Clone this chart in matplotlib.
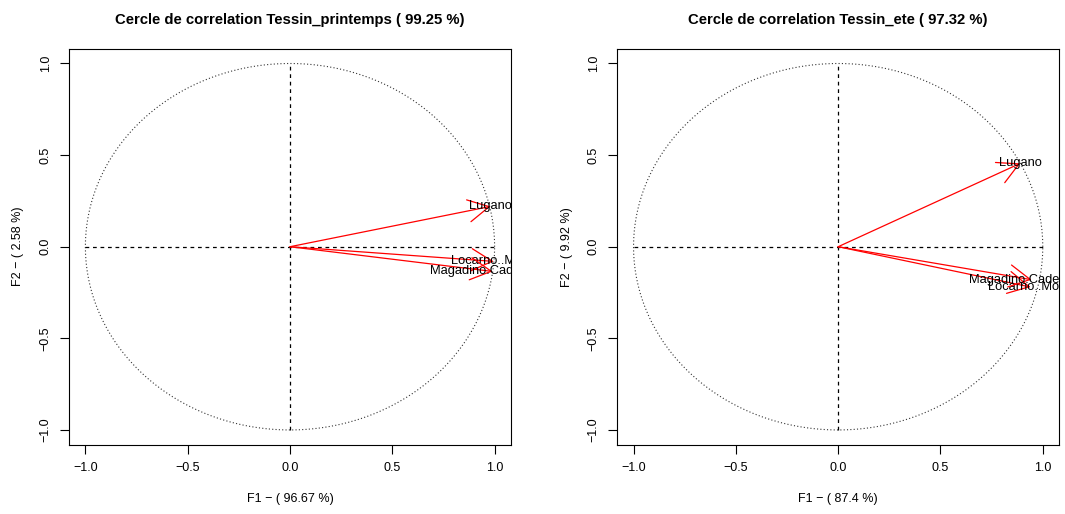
import numpy as np
import matplotlib.pyplot as plt

plt.rcParams['font.family'] = ['Liberation Sans', 'DejaVu Sans']

# correlations variables / axes
stations = ["Lugano", "Locarno..Monti", "Magadino.Cadenazzo"]
f1_printemps = [0.98, 0.995, 0.99]
f2_printemps = [0.22, -0.08, -0.135]
f1_ete = [0.89, 0.94, 0.945]
f2_ete = [0.455, -0.22, -0.18]

titres = ["Cercle de correlation Tessin_printemps ( 99.25 %)",
          "Cercle de correlation Tessin_ete ( 97.32 %)"]
xlabels = ["F1 \u2212 ( 96.67 %)", "F1 \u2212 ( 87.4 %)"]
ylabels = ["F2 \u2212 ( 2.58 %)", "F2 \u2212 ( 9.92 %)"]
ticks = [-1.0, -0.5, 0.0, 0.5, 1.0]


def cercle(ax, x, y, titre, xl, yl):
    t = np.linspace(0, 2 * np.pi, 400)
    ax.plot(np.cos(t), np.sin(t), color="#333333", lw=0.8, ls=(0, (1, 2)))
    ax.plot([-1, 1], [0, 0], color="black", lw=0.9, ls=(0, (3, 3)))
    ax.plot([0, 0], [-1, 1], color="black", lw=0.9, ls=(0, (3, 3)))
    for nom, a, b in zip(stations, x, y):
        ax.annotate("", xy=(a, b), xytext=(0, 0),
                    arrowprops=dict(arrowstyle="->,head_length=0.75,head_width=0.4",
                                    color="red", lw=0.9, shrinkA=0, shrinkB=0,
                                    mutation_scale=20))
        ax.text(a, b, nom, ha="center", va="center", fontsize=9.3, clip_on=True)
    ax.set_xlim(-1.08, 1.08)
    ax.set_ylim(-1.08, 1.08)
    ax.set_xticks(ticks)
    ax.set_yticks(ticks)
    ax.set_xticklabels([f"{v:.1f}".replace("-", "\u2212") for v in ticks])
    ax.set_yticklabels([f"{v:.1f}".replace("-", "\u2212") for v in ticks],
                       rotation=90, va="center")
    ax.tick_params(labelsize=9, length=6.5, width=0.8, pad=6)
    ax.set_title(titre, fontsize=10.7, fontweight="bold", pad=18)
    ax.set_xlabel(xl, fontsize=9, labelpad=14)
    ax.set_ylabel(yl, fontsize=9, labelpad=11)
    for s in ax.spines.values():
        s.set_linewidth(0.8)


fig = plt.figure(figsize=(10.65, 5.14), dpi=100)
ax1 = fig.add_axes([0.0648, 0.135, 0.415, 0.770])
ax2 = fig.add_axes([0.5795, 0.135, 0.415, 0.770])
cercle(ax1, f1_printemps, f2_printemps, titres[0], xlabels[0], ylabels[0])
cercle(ax2, f1_ete, f2_ete, titres[1], xlabels[1], ylabels[1])

fig.savefig("out.png", dpi=100)
